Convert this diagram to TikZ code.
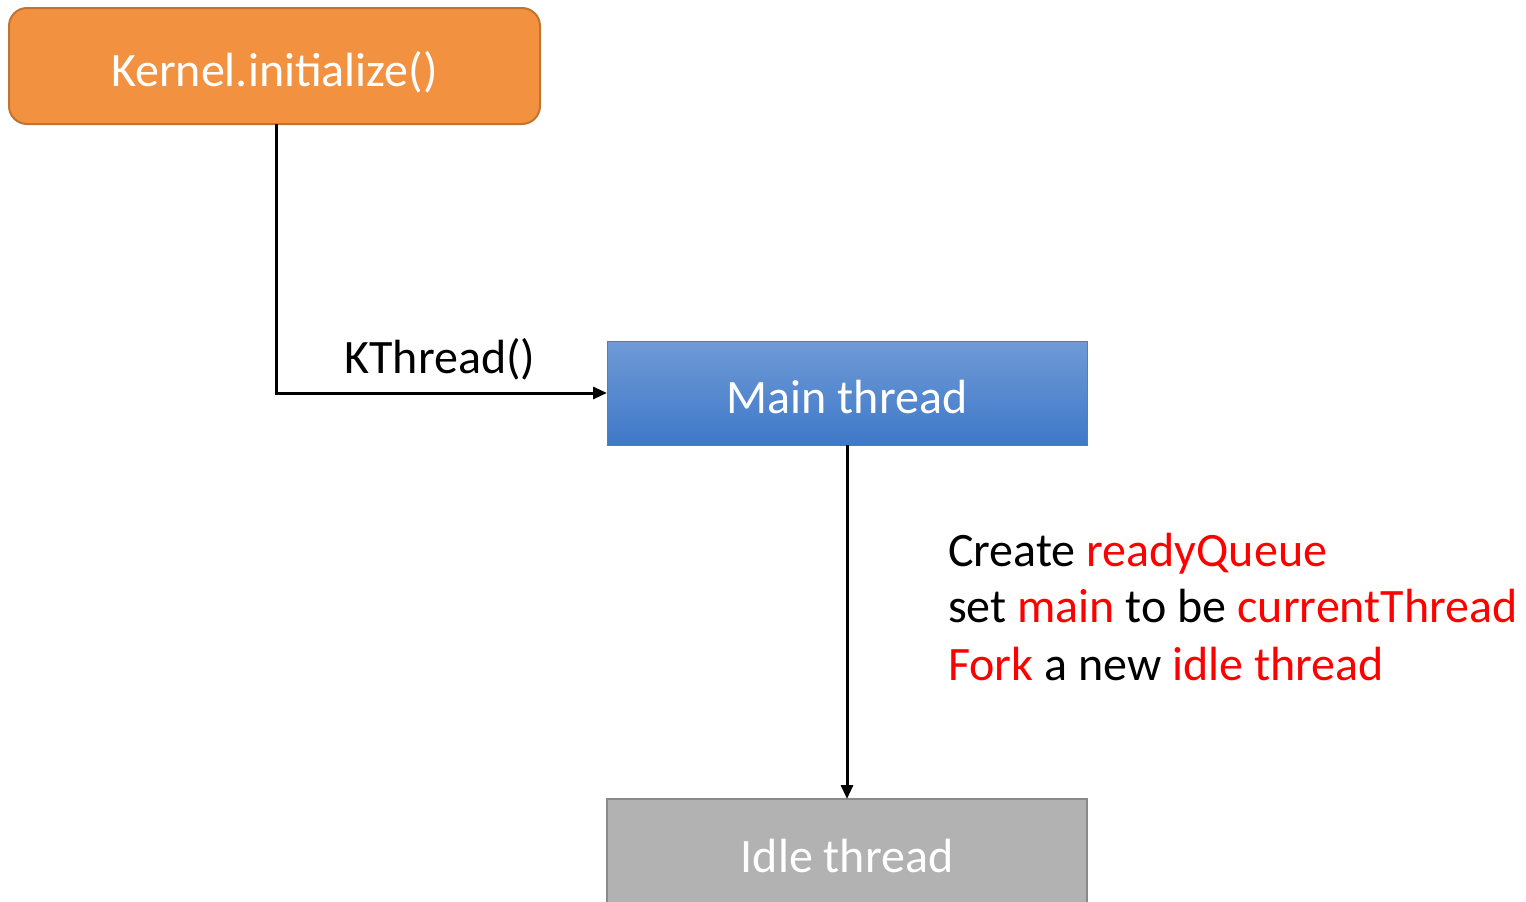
\documentclass[tikz,border=0pt]{standalone}
\usepackage{fontspec}
\setmainfont{Carlito}
\usetikzlibrary{arrows.meta}
\definecolor{orangefill}{HTML}{F29241}
\definecolor{orangedraw}{HTML}{C0742F}
\definecolor{bluetop}{HTML}{6F9AD6}
\definecolor{bluebot}{HTML}{3F78C8}
\definecolor{bluedraw}{HTML}{4A7EC6}
\definecolor{greyfill}{HTML}{B2B2B2}
\definecolor{greydraw}{HTML}{8A8A8A}
\definecolor{hl}{HTML}{FF0000}
\tikzset{
  boxtext/.style={text=white, font=\fontsize{48}{57}\selectfont, inner sep=0pt},
  conn/.style={line width=3pt, -{Triangle[length=14pt,width=12pt]}},
  lbl/.style={font=\fontsize{48}{57}\selectfont, inner sep=0pt, anchor=base west},
}
\begin{document}
\begin{tikzpicture}[x=1pt,y=-1pt]
\useasboundingbox (0,0) rectangle (1526,902);
% boxes
\draw[fill=orangefill, draw=orangedraw, line width=2pt, rounded corners=18pt] (9,8) rectangle (540,124);
\node[boxtext, anchor=base] (kern) at (274.5,86) {Kernel.initialize()};
\coordinate (kernb) at (276,124);
\shade[top color=bluetop, bottom color=bluebot] (607,341) rectangle (1087,445);
\draw[bluedraw, line width=1pt] (607,341) rectangle (1087,445);
\node[boxtext, anchor=base] (mainc) at (847,413) {Main thread};
\coordinate (mainl) at (607,393);
\coordinate (mainb) at (847,445);
\draw[fill=greyfill, draw=greydraw, line width=2.5pt] (607,799) rectangle (1087,910);
\node[boxtext, anchor=base] (idle) at (847,872) {Idle thread};
\coordinate (idlet) at (847,799);
% connectors
\draw[conn] (kernb) |- (mainl);
\node[lbl, anchor=base] (kth) at (440,373) {KThread()};
\draw[conn] (mainb) -- (idlet);
% annotations
\node[lbl] (l1) at (948,566) {Create \textcolor{hl}{readyQueue}};
\node[lbl] (l2) at (948,622) {set \textcolor{hl}{main} to be \textcolor{hl}{currentThread}};
\node[lbl] (l3) at (948,680) {\textcolor{hl}{Fork} a new \textcolor{hl}{idle thread}};
\end{tikzpicture}
\end{document}
